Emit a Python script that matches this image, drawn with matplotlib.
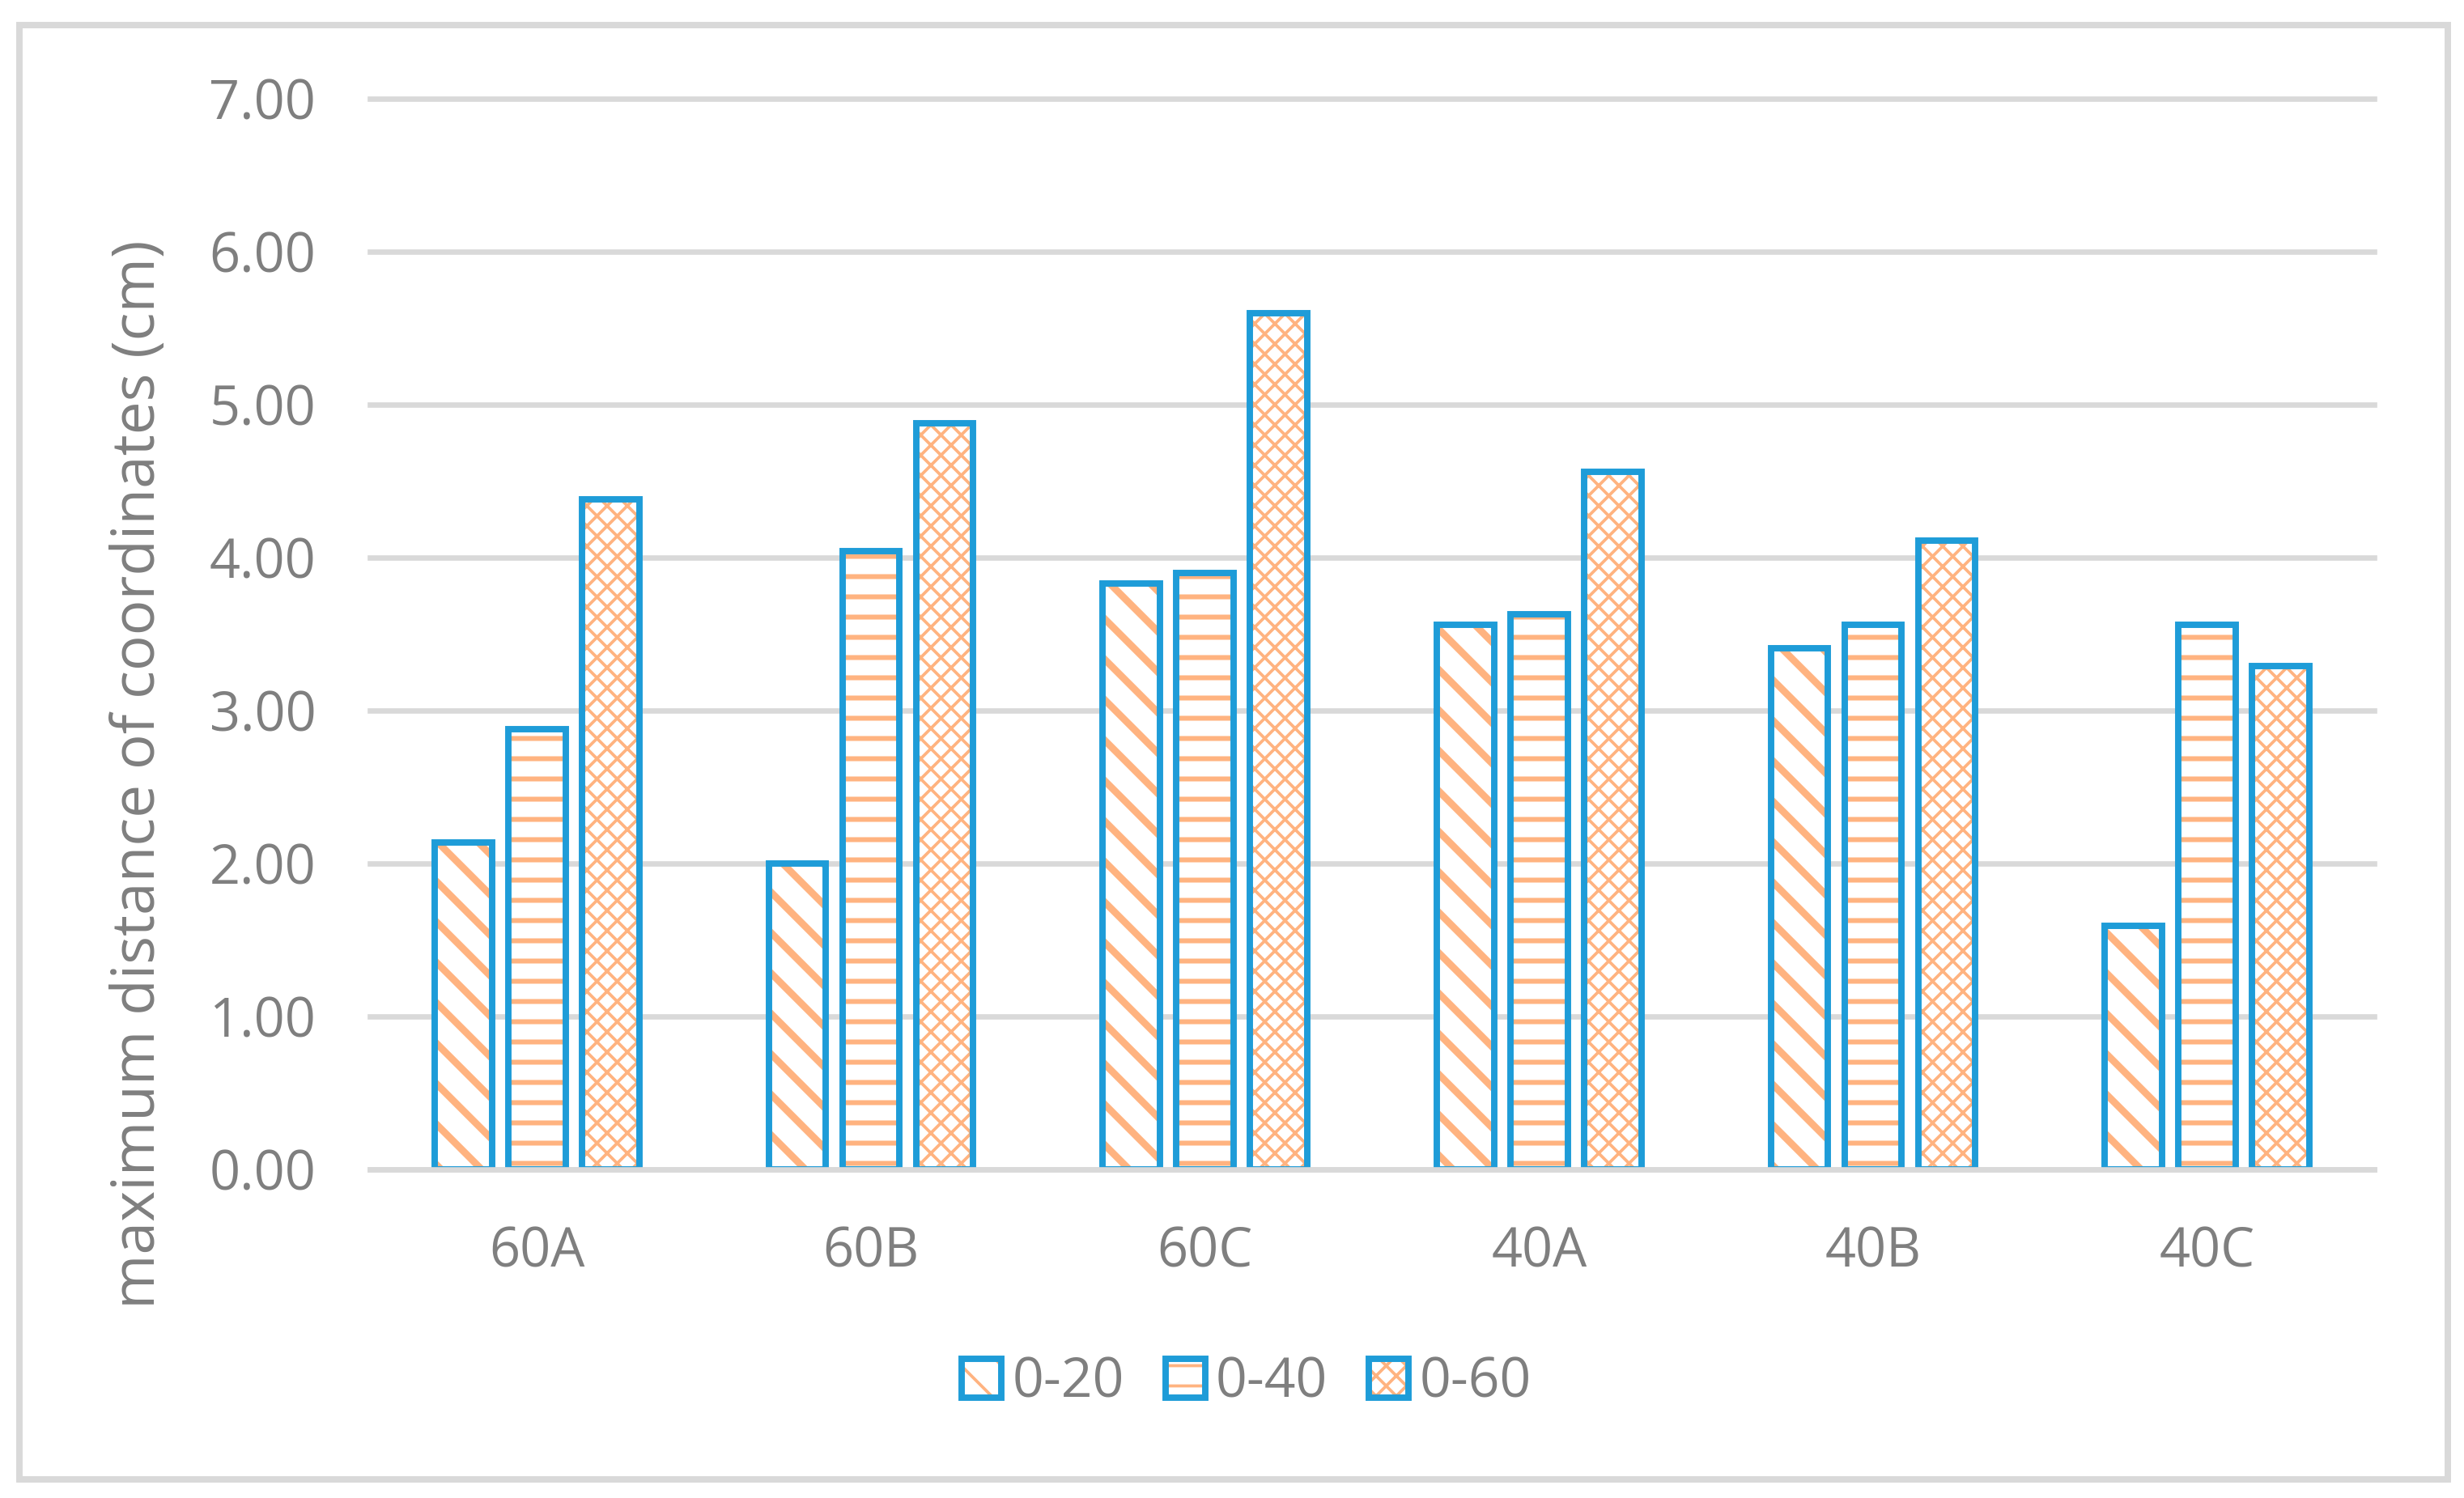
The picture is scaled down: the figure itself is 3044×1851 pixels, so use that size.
import numpy as np
import matplotlib
matplotlib.use('Agg')
import matplotlib.pyplot as plt
import matplotlib.patches as patch
from matplotlib.legend_handler import HandlerTuple

# data
categories = ['60A', '60B', '60C', '40A', '40B', '40C']
series_names = ['0-20', '0-40', '0-60']
depth_0_20 = [2.14, 2.00, 3.83, 3.56, 3.41, 1.59]
depth_0_40 = [2.88, 4.04, 3.90, 3.63, 3.56, 3.56]
depth_0_60 = [4.38, 4.88, 5.60, 4.56, 4.11, 3.29]
y_ticks = [0, 1, 2, 3, 4, 5, 6, 7]

plt.rcParams['font.family'] = ['Open Sans', 'DejaVu Sans']

blue = '#1E9CD8'
orange = '#FFB380'
gray_text = '#7F7F7F'
gray_line = '#D9D9D9'

W, H = 3044, 1851
fig = plt.figure(figsize=(W / 300, H / 300), dpi=300)
ax = fig.add_axes([457 / W, 1 - 1445 / H, (2933 - 457) / W, (1445 - 122) / H])

x = np.arange(len(categories))
width = 0.172
pitch = 0.2205
hatches = ['\\\\', '--', 'xxxx']
hatch_lws = [2.1, 1.45, 0.9]

handles = []
for i, (vals, hatch, hlw) in enumerate(zip([depth_0_20, depth_0_40, depth_0_60],
                                             hatches, hatch_lws)):
    pos = x + (i - 1) * pitch
    plt.rcParams['hatch.linewidth'] = hlw
    fill = ax.bar(pos, vals, width, color='white', edgecolor=orange,
                  hatch=hatch, linewidth=0, zorder=2)
    for p in fill:
        if hasattr(p, 'set_hatch_linewidth'):
            p.set_hatch_linewidth(hlw)
    edge = ax.bar(pos, vals, width, color='none', edgecolor=blue,
                  linewidth=1.9, zorder=3)
    for p in edge:
        p.set_joinstyle('miter')
    handles.append((fill, edge))

ax.set_xlim(-0.5, len(categories) - 0.5)
ax.set_ylim(0, 7)
ax.set_xticks(x)
ax.set_xticklabels(categories)
ax.set_yticks(y_ticks)
ax.set_yticklabels(['%.2f' % v for v in y_ticks])
ax.tick_params(axis='both', length=0, labelsize=16, labelcolor=gray_text)
ax.tick_params(axis='x', pad=16.5)
ax.tick_params(axis='y', pad=16)

ax.set_axisbelow(True)
ax.yaxis.grid(True, color=gray_line, linewidth=1.6)
for gl in ax.get_ygridlines():
    gl.set_clip_on(False)

for s in ['left', 'top', 'right']:
    ax.spines[s].set_visible(False)
ax.spines['bottom'].set_color(gray_line)
ax.spines['bottom'].set_linewidth(1.6)
ax.spines['bottom'].set_zorder(4)

fig.text(172 / W, 1 - 957 / H, 'maximum distance of coordinates (cm)',
         rotation=90, ha='center', va='center', fontsize=17.5, color=gray_text)

fig.legend(handles, series_names, loc='center',
           bbox_to_anchor=(1540 / W, 1 - 1709 / H), ncol=3, frameon=False,
           fontsize=16.3, handlelength=0.72, handleheight=0.72,
           handletextpad=0.2, columnspacing=0.75, borderpad=0,
           handler_map={tuple: HandlerTuple(ndivide=1)}, labelcolor=gray_text)

# light gray chart-area border
fig.patches.append(patch.Rectangle((24 / W, 1 - 1828 / H), 3000 / W,
                                   (1828 - 31) / H, transform=fig.transFigure,
                                   fill=False, edgecolor=gray_line,
                                   linewidth=1.9))

fig.savefig('out.png', dpi=300)
